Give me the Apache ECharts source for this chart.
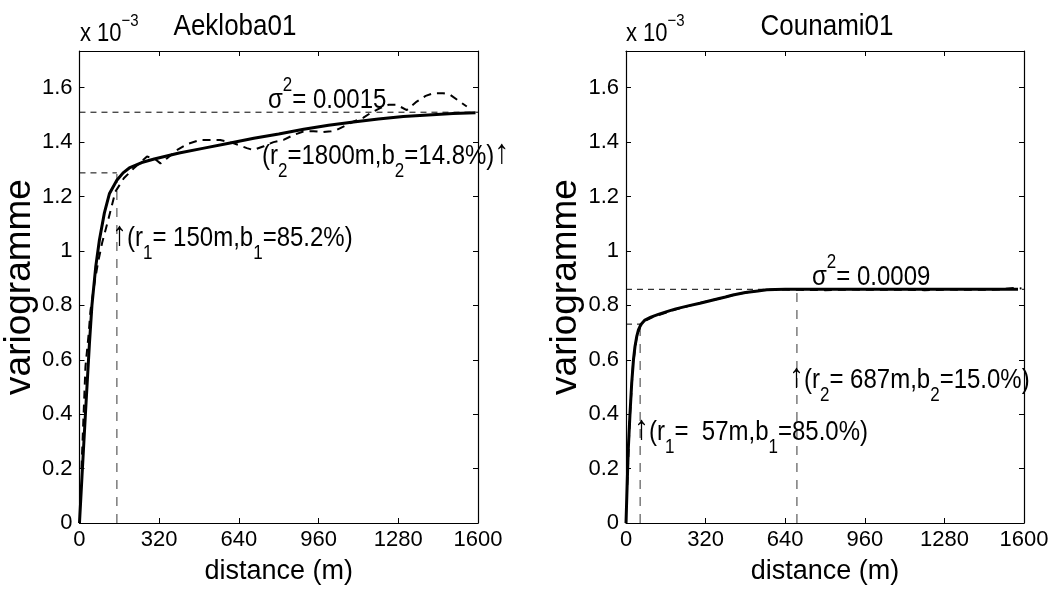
<!DOCTYPE html>
<html>
<head>
<meta charset="utf-8">
<script src="https://cdn.jsdelivr.net/npm/echarts@6/dist/echarts.min.js"></script>
<style>html,body{margin:0;padding:0;background:#fff}#c{width:1053px;height:598px}</style>
</head>
<body>
<div id="c"></div>
<script>
// ---------- DATA (variogram values in units of 1e-3) ----------
const xTicks = [0, 320, 640, 960, 1280, 1600];
const titles = ['Aekloba01', 'Counami01'];

// Aekloba01 : fitted model (solid)
const leftModelD = [0, 10, 25, 40, 50, 65, 80, 100, 120, 150, 175, 200, 250, 300, 400, 500, 600, 700, 800, 900, 1000, 1100, 1200, 1300, 1400, 1500, 1590];
const leftModelV = [0, 0.17, 0.42, 0.66, 0.80, 0.94, 1.04, 1.14, 1.21, 1.26, 1.287, 1.305, 1.325, 1.338, 1.36, 1.378, 1.396, 1.414, 1.43, 1.447, 1.462, 1.474, 1.485, 1.494, 1.50, 1.505, 1.508];
// Aekloba01 : experimental variogram (dashed)
const leftExpD = [8, 24, 37, 44, 60, 75, 91, 117, 144, 178, 218, 250, 271, 300, 325, 352, 390, 432, 485, 565, 619, 672, 698, 740, 779, 819, 859, 899, 940, 979, 1010, 1033, 1066, 1099, 1140, 1167, 1207, 1240, 1274, 1314, 1354, 1390, 1421, 1460, 1488, 1525, 1555];
const leftExpV = [0.20, 0.575, 0.697, 0.78, 0.88, 0.96, 1.03, 1.12, 1.218, 1.267, 1.304, 1.33, 1.347, 1.34, 1.322, 1.341, 1.37, 1.393, 1.408, 1.408, 1.396, 1.378, 1.371, 1.385, 1.40, 1.408, 1.426, 1.439, 1.44, 1.437, 1.44, 1.445, 1.46, 1.475, 1.49, 1.506, 1.525, 1.537, 1.537, 1.518, 1.549, 1.57, 1.58, 1.58, 1.574, 1.55, 1.531];
const leftSill = 1.51;
const leftR1 = 150, leftB1Level = 1.287;

// Counami01 : fitted model (solid)
const rightModelD = [0, 5, 9, 16, 23, 30, 36, 43, 50, 60, 76, 100, 130, 164, 200, 250, 297, 350, 400, 430, 480, 530, 566, 600, 640, 687, 800, 1000, 1200, 1400, 1576];
const rightModelV = [0, 0.15, 0.268, 0.40, 0.515, 0.60, 0.648, 0.685, 0.71, 0.73, 0.746, 0.757, 0.767, 0.777, 0.787, 0.798, 0.808, 0.82, 0.831, 0.838, 0.847, 0.853, 0.857, 0.858, 0.859, 0.859, 0.859, 0.859, 0.859, 0.859, 0.859];
// Counami01 : experimental variogram (dashed)
const rightExpD = [5, 15, 28, 42, 58, 80, 110, 150, 200, 260, 320, 380, 440, 500, 560, 620, 700, 800, 900, 1000, 1100, 1200, 1300, 1400, 1500, 1560, 1590];
const rightExpV = [0.14, 0.38, 0.58, 0.68, 0.725, 0.745, 0.758, 0.77, 0.785, 0.80, 0.813, 0.826, 0.84, 0.85, 0.856, 0.858, 0.857, 0.856, 0.858, 0.857, 0.858, 0.856, 0.858, 0.857, 0.858, 0.864, 0.862];
const rightSill = 0.859;
const rightR1 = 57, rightB1Level = 0.731;
const rightR2 = 687;

// annotation texts
const leftSigmaText = ['σ', '2', '= 0.0015'];
const rightSigmaText = ['σ', '2', '= 0.0009'];
const leftR2Text = ['(r', '2', '=1800m,b', '2', '=14.8%)'];
const leftR1Text = ['(r', '1', '= 150m,b', '1', '=85.2%)'];
const rightR2Text = ['(r', '2', '= 687m,b', '2', '=15.0%)'];
const rightR1Text = ['(r', '1', '=  57m,b', '1', '=85.0%)'];
const ARROW = '↑';

// ---------- BUILD ----------
const FONT = 'Liberation Sans, Arial, Helvetica, sans-serif';
const zip = (a, b) => a.map((v, i) => [v, b[i]]);

function xAx(gi, pos) {
  return {
    type: 'value', gridIndex: gi, position: pos, min: xTicks[0], max: xTicks[xTicks.length - 1], interval: xTicks[1] - xTicks[0],
    axisLine: { show: true, onZero: false, lineStyle: { color: '#000', width: 1.2 } },
    axisTick: { show: true, inside: true, length: 5, lineStyle: { color: '#000' } },
    splitLine: { show: false },
    axisLabel: { show: pos === 'bottom', color: '#000', fontSize: 22, fontFamily: FONT, margin: 6, formatter: v => String(v) },
    name: pos === 'bottom' ? 'distance (m)' : '', nameLocation: 'middle', nameGap: 35,
    nameTextStyle: { color: '#000', fontSize: 27, fontFamily: FONT }
  };
}
function yAx(gi, pos) {
  return {
    type: 'value', gridIndex: gi, position: pos, min: 0, max: 1.735, interval: 0.2,
    axisLine: { show: true, onZero: false, lineStyle: { color: '#000', width: 1.2 } },
    axisTick: { show: true, inside: true, length: 5, lineStyle: { color: '#000' } },
    splitLine: { show: false },
    axisLabel: { show: pos === 'left', showMaxLabel: false, color: '#000', fontSize: 22, fontFamily: FONT, margin: 7, formatter: v => String(+v.toFixed(2)) },
    name: pos === 'left' ? 'variogramme' : '', nameLocation: 'middle', nameGap: gi === 0 ? 32 : 29,
    nameTextStyle: { color: '#000', fontSize: 37, fontFamily: FONT }
  };
}
function line(xi, data, style) {
  return { type: 'line', xAxisIndex: xi, yAxisIndex: xi, data, showSymbol: false, symbol: 'none', silent: true, lineStyle: style, z: style.z || 2 };
}
const solid = { color: '#000', width: 3, z: 4 };
const expDash = { color: '#000', width: 2, type: [8, 6], z: 3 };
const blackDash = { color: '#000', width: 1, type: [6, 5] };
const grayDash = { color: '#7a7a7a', width: 1.5, type: [9, 8] };

const series = [
  line(0, zip(leftExpD, leftExpV), expDash),
  line(0, zip(leftModelD, leftModelV), solid),
  line(0, [[xTicks[0], leftSill], [xTicks[xTicks.length - 1], leftSill]], blackDash),
  line(0, [[xTicks[0], leftB1Level], [leftR1, leftB1Level]], blackDash),
  line(0, [[leftR1, 0], [leftR1, leftB1Level]], grayDash),
  line(1, zip(rightExpD, rightExpV), expDash),
  line(1, zip(rightModelD, rightModelV), solid),
  line(1, [[xTicks[0], rightSill], [xTicks[xTicks.length - 1], rightSill]], blackDash),
  line(1, [[xTicks[0], rightB1Level], [rightR1, rightB1Level]], blackDash),
  line(1, [[rightR1, 0], [rightR1, rightB1Level]], grayDash),
  line(1, [[rightR2, 0], [rightR2, rightSill]], grayDash)
];

const N = { fontSize: 24, fontFamily: FONT, fill: '#000' };
const A = { fontSize: 30, fontFamily: FONT, fill: '#000', lineHeight: 40, padding: [0, 0, 4, 0] };
const richSub = { n: Object.assign({ lineHeight: 44 }, N), a: A, s: { fontSize: 17, fontFamily: FONT, fill: '#000', lineHeight: 16, padding: [28, 0, 0, 0] } };
const richSup = { n: Object.assign({ lineHeight: 43 }, N), p: { fontSize: 17, fontFamily: FONT, fill: '#000', lineHeight: 17, padding: [0, 0, 26, 0] } };
const richExp = { n: { fontSize: 22, fontFamily: FONT, fill: '#000', lineHeight: 39 }, p: { fontSize: 15, fontFamily: FONT, fill: '#000', lineHeight: 17, padding: [0, 0, 22, 0] } };

function subStr(parts, arrowPos) {
  const body = parts.map((p, i) => (i % 2 ? '{s|' : '{n|') + p + '}').join('');
  return arrowPos === 'before' ? '{a|' + ARROW + '}' + body : body + '{a|' + ARROW + '}';
}
function supStr(parts) { return parts.map((p, i) => (i % 2 ? '{p|' : '{n|') + p + '}').join(''); }
const SY = 1.14;
function txt(x, y, text, rich) {
  return { type: 'text', x, y, scaleY: SY, silent: true, z: 10, style: { text, rich, align: 'left', verticalAlign: 'middle', fill: '#000', fontFamily: FONT, fontSize: 24 } };
}
function plain(x, y, text, size) {
  return { type: 'text', x, y, scaleY: SY, silent: true, z: 10, style: { text, align: 'center', verticalAlign: 'middle', fill: '#000', fontFamily: FONT, fontSize: size } };
}

const graphic = [
  plain(235, 27, titles[0], 26),
  plain(827, 27, titles[1], 26),
  txt(80, 34, '{n|x 10}{p|−3}', richExp),
  txt(626, 34, '{n|x 10}{p|−3}', richExp),
  txt(268, 100, supStr(leftSigmaText), richSup),
  txt(262, 156, subStr(leftR2Text, 'after'), richSub),
  txt(112, 238, subStr(leftR1Text, 'before'), richSub),
  txt(812, 277, supStr(rightSigmaText), richSup),
  txt(789, 380, subStr(rightR2Text, 'before'), richSub),
  txt(634, 432, subStr(rightR1Text, 'before'), richSub)
];

const chart = echarts.init(document.getElementById('c'), null, { renderer: 'canvas' });
chart.setOption({
  animation: false,
  backgroundColor: '#fff',
  grid: [
    { left: 79, top: 51, width: 399, height: 472, containLabel: false },
    { left: 626, top: 51, width: 398, height: 472, containLabel: false }
  ],
  xAxis: [xAx(0, 'bottom'), xAx(1, 'bottom'), xAx(0, 'top'), xAx(1, 'top')],
  yAxis: [yAx(0, 'left'), yAx(1, 'left'), yAx(0, 'right'), yAx(1, 'right')],
  series,
  graphic
});
</script>
</body>
</html>
